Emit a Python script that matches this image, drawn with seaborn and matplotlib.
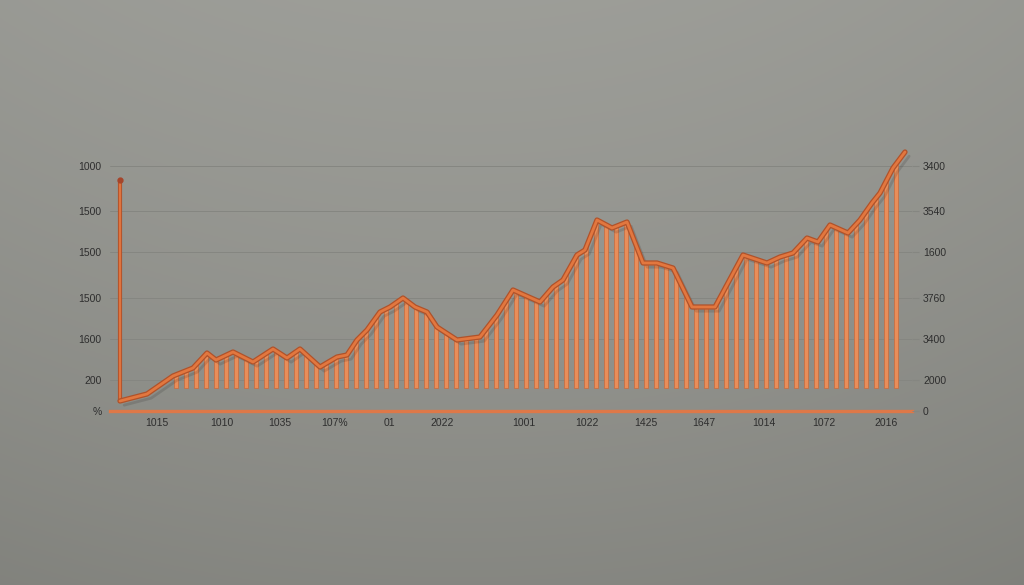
import numpy as np
import matplotlib
matplotlib.use("Agg")
import matplotlib.pyplot as plt
import matplotlib.patheffects as pe
import seaborn as sns

# line vertices (period index, value)
line_x = [-5.6, -2.9, -0.3, 1.7, 3.1, 4.0, 5.7, 7.7, 9.7, 11.1, 12.4, 14.4, 16.1, 17.1,
          18.1, 19.1, 20.4, 21.4, 22.7, 23.9, 25.1, 26.1, 28.1, 30.4, 32.1, 33.7, 36.4,
          37.7, 38.7, 40.1, 40.9, 42.1, 43.6, 45.1, 46.7, 48.1, 49.7, 51.6, 53.9, 56.7,
          59.1, 60.4, 61.7, 63.1, 64.2, 65.4, 67.2, 68.4, 69.6, 70.4, 71.7, 72.9]
line_y = [10, 17, 35, 43, 58, 51, 59, 49, 62, 53, 62, 44, 54, 56, 71, 81, 99, 104, 113,
          104, 99, 84, 71, 74, 96, 121, 109, 124, 131, 156, 161, 191, 183, 189, 148, 148,
          143, 104, 104, 156, 148, 154, 158, 173, 169, 186, 178, 191, 208, 218, 243, 259]

# thin bars under the line
bar_vals = [36, 40, 46, 57, 51, 56, 57, 53, 51, 58,
            60, 54, 59, 57, 48, 48, 53, 56, 70, 80,
            94, 102, 108, 111, 104, 99, 86, 78, 72, 72,
            74, 82, 95, 110, 120, 115, 111, 116, 126, 136,
            154, 164, 189, 186, 185, 189, 166, 148, 148, 145,
            137, 116, 104, 104, 106, 124, 143, 155, 152, 148,
            152, 156, 161, 172, 170, 180, 183, 179, 187, 200,
            213, 230, 247]
bar_pos = list(range(len(bar_vals)))
bar_base = 23

x_tick_pos = [-1.9, 4.6, 10.4, 15.9, 21.3, 26.6, 34.8, 41.1, 47.0, 52.8, 58.8, 64.8, 71.0]
x_tick_labels = ["1015", "1010", "1035", "107%", "01", "2022", "1001", "1022", "1425",
                 "1647", "1014", "1072", "2016"]
y_tick_pos = [0, 31, 72, 113, 159, 200, 245]
y_left_labels = ["%", "200", "1600", "1500", "1500", "1500", "1000"]
y_right_labels = ["0", "2000", "3400", "3760", "1600", "3540", "3400"]
y_arrow_top = 231

sns.set_theme(style="white")
plt.rcParams["font.family"] = ["Liberation Sans", "DejaVu Sans"]

fig = plt.figure(figsize=(10.24, 5.85), dpi=100)

# gradient background
bg = fig.add_axes([0, 0, 1, 1], zorder=-10)
yy, xx = np.mgrid[0:1:300j, 0:1:500j]
shade = 0.615 - 0.06 * yy - 0.08 * ((xx - 0.45) ** 2) - 0.03 * (yy ** 2)
rgb = np.dstack([shade, shade + 0.003, shade - 0.018])
bg.imshow(np.clip(rgb, 0, 1), aspect="auto", extent=[0, 1, 0, 1], origin="upper")
bg.axis("off")

ax = fig.add_axes([110 / 1024, (585 - 411) / 585, (912 - 110) / 1024, (411 - 140) / 585])
ax.set_facecolor("none")

ax.bar(bar_pos, [v - bar_base for v in bar_vals], bottom=bar_base, width=0.34,
       color="#e98d59", edgecolor="#c86a3c", linewidth=0.5, zorder=2)

sns.lineplot(x=line_x, y=line_y, sort=False, ax=ax, color="#e2773f", linewidth=2.0,
             zorder=4,
             path_effects=[pe.SimpleLineShadow(offset=(3, -3), shadow_color="k", alpha=0.15),
                           pe.Stroke(linewidth=3.8, foreground="#b0522a"), pe.Normal()])

# vertical axis post
ax.plot([line_x[0], line_x[0]], [line_y[0], y_arrow_top], color="#de7440", lw=1.6,
        solid_capstyle="butt", zorder=3,
        path_effects=[pe.Stroke(linewidth=3.0, foreground="#b0522a"), pe.Normal()])
ax.plot([line_x[0]], [y_arrow_top], "o", color="#a5452a", markersize=3.5, zorder=5)

ax.set_xlim(-6.6, 73.6)
ax.set_ylim(0, 271)
ax.set_yticks(y_tick_pos)
ax.set_yticklabels(y_left_labels)
ax.set_xticks(x_tick_pos)
ax.set_xticklabels(x_tick_labels)
ax.grid(axis="y", color="#858681", linewidth=0.7)
ax.tick_params(axis="x", length=0, pad=5, labelsize=7.5, labelcolor="#2e2e2e")
ax.tick_params(axis="y", length=0, pad=6, labelsize=7.5, labelcolor="#2e2e2e")
for s in ["top", "left", "right"]:
    ax.spines[s].set_visible(False)
ax.spines["bottom"].set_color("#de7848")
ax.spines["bottom"].set_linewidth(2.4)
ax.set_xlabel("")
ax.set_ylabel("")

ax2 = ax.twinx()
ax2.set_ylim(ax.get_ylim())
ax2.set_yticks(y_tick_pos)
ax2.set_yticklabels(y_right_labels)
ax2.tick_params(axis="y", length=5, width=0.8, color="#858681", pad=3, labelsize=7.5,
                labelcolor="#2e2e2e")
for s in ax2.spines.values():
    s.set_visible(False)

fig.savefig("out.png", dpi=100)
